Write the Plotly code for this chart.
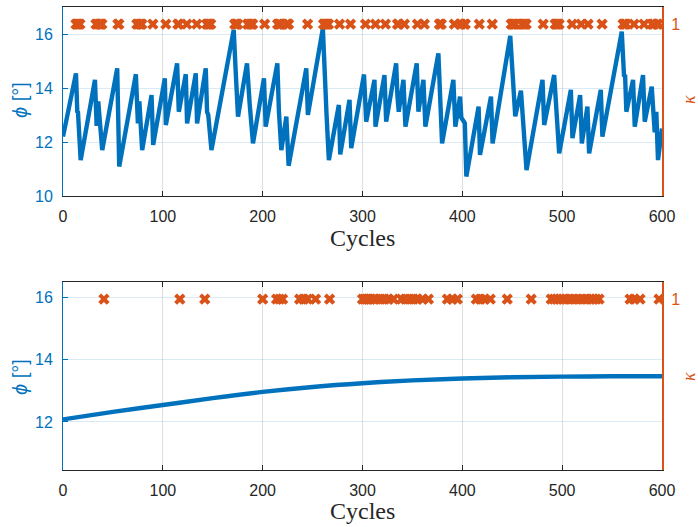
import plotly.graph_objects as go

# ---------------- data ----------------
# Top panel: phi [deg] vs cycles (vertices of the sawtooth line)
top_cycles = [0, 13, 14.3, 15, 17.7, 32, 33.7, 35.3, 39.3, 54.3, 56.3, 73, 75, 76.5, 79.3,
              88.7, 90.3, 102, 103, 114.3, 116, 123, 124.3, 133, 134.3, 143, 144.3, 145.5, 148.7,
              171, 173, 175.3, 184.3, 186, 187, 190.3, 201.3, 203, 214.7, 216.3, 218.7, 223.7, 226,
              243.7, 245.3, 260.3, 263, 264, 266.3, 276.3, 277.7, 287, 288.7, 301.5, 303.7,
              312, 313, 322, 323.7, 333.7, 335, 336.3, 341, 343, 354.3, 356, 361, 363,
              376, 377.7, 379.7, 391, 393, 397.7, 399, 402.5, 404, 416.3, 417.7, 428.7, 430.3,
              448, 451, 453, 458.7, 460.5, 461.5, 464.3, 480.3, 482, 492, 493.7, 494.5, 497,
              508.7, 510.3, 518, 519.7, 525.3, 527, 538.7, 540.3, 559.7, 562, 563, 564.3,
              571, 572.7, 581, 582.7, 589.7, 591, 592.7, 594.3, 596, 600]
top_phi = [12.2, 14.54, 13.12, 13.1, 11.33, 14.3, 12.6, 13.5, 11.7, 14.73, 11.09, 14.51, 12.69, 13.5, 11.7,
           13.74, 11.89, 14.36, 12.63, 14.91, 13.12, 14.51, 12.69, 14.54, 12.69, 14.73, 13.12, 13.0, 11.7,
           16.15, 14.6, 12.94, 14.91, 13.5, 13.4, 11.95, 14.36, 12.57, 14.91, 13.12, 11.7, 12.94, 11.12,
           14.73, 13.0, 16.21, 13.12, 13.0, 11.33, 13.37, 11.54, 13.56, 11.77, 14.5, 12.75,
           14.3, 12.57, 14.48, 12.75, 14.91, 13.7, 13.12, 14.3, 12.57, 14.91, 13.12, 14.3, 12.57,
           15.28, 13.6, 11.95, 14.3, 12.57, 13.68, 12.9, 12.7, 10.72, 13.31, 11.52, 13.68, 11.95,
           15.93, 14.2, 12.95, 13.9, 12.9, 12.8, 10.96, 14.3, 12.63, 14.48, 13.25, 13.2, 11.58,
           13.93, 12.14, 13.74, 11.95, 13.31, 11.58, 13.93, 12.2, 16.09, 14.42, 14.5, 13.12,
           14.3, 12.57, 14.48, 12.75, 14.05, 13.06, 12.36, 13.12, 11.33, 12.5]

# Top panel: cycles with kappa = 1
top_kappa_cycles = [13, 14, 15, 16, 17, 33, 34, 36, 37, 38, 39, 55, 56, 74, 75, 77, 78, 79, 90,
                    103, 115, 116, 124, 134, 144, 145, 146, 147, 148, 172, 173, 174, 175,
                    185, 186, 188, 189, 190, 202, 215, 216, 217, 218, 224, 225, 226, 245,
                    261, 262, 263, 264, 265, 266, 277, 288, 303, 313, 323, 335, 336, 342,
                    355, 362, 377, 378, 379, 392, 398, 399, 402, 403, 417, 430,
                    449, 450, 451, 452, 453, 460, 461, 462, 463, 464, 481, 493, 494, 495, 496, 497,
                    510, 519, 526, 540, 561, 562, 563, 564, 572, 582, 590, 591, 592, 595, 596]

# Bottom panel: smooth phi curve
bottom_cycles = [0, 50, 100, 150, 200, 250, 300, 350, 400, 450, 500, 550, 600]
bottom_phi = [12.08, 12.32, 12.54, 12.76, 12.96, 13.12, 13.24, 13.33, 13.39, 13.43, 13.45, 13.46, 13.46]

# Bottom panel: cycles with kappa = 1
bottom_kappa_cycles = [41, 117, 142, 200, 214, 217, 220, 237, 241, 245, 253, 267,
                       300, 302, 304, 306, 308, 311, 314, 318, 322, 326, 331, 339, 343, 347, 351,
                       355, 360, 366, 385, 390, 395, 414, 418, 422, 428, 445, 469,
                       489, 492, 495, 498, 501, 504, 508, 512, 516, 520, 524, 528, 531, 534, 537,
                       568, 572, 578, 597]
kappa_value = 1

x_ticks = [0, 100, 200, 300, 400, 500, 600]
top_phi_ticks = [10, 12, 14, 16]
bottom_phi_ticks = [12, 14, 16]

# ---------------- styling ----------------
BLUE = "#0072BD"
ORANGE = "#D95319"
DARK = "#262626"
SANS = "Liberation Sans, Arial, sans-serif"
SERIF = "Liberation Serif, Times New Roman, serif"

fig = go.Figure()

fig.add_trace(go.Scatter(x=top_cycles, y=top_phi, mode="lines",
                         line=dict(color=BLUE, width=4.4), xaxis="x", yaxis="y",
                         showlegend=False))
fig.add_trace(go.Scatter(x=top_kappa_cycles, y=[kappa_value] * len(top_kappa_cycles),
                         mode="markers", marker=dict(symbol="x", size=10, color=ORANGE),
                         xaxis="x", yaxis="y2", showlegend=False))
fig.add_trace(go.Scatter(x=bottom_cycles, y=bottom_phi, mode="lines",
                         line=dict(color=BLUE, width=4.4, shape="spline"),
                         xaxis="x2", yaxis="y3", showlegend=False))
fig.add_trace(go.Scatter(x=bottom_kappa_cycles, y=[kappa_value] * len(bottom_kappa_cycles),
                         mode="markers", marker=dict(symbol="x", size=10, color=ORANGE),
                         xaxis="x2", yaxis="y4", showlegend=False))

top_dom = [0.5918, 1.0]
bot_dom = [0.0, 0.406]

xcommon = dict(range=[0, 600], tickvals=x_ticks, showline=True, linecolor=DARK, linewidth=1,
               mirror="ticks", ticks="inside", ticklen=5, tickcolor=DARK,
               showgrid=True, gridcolor="rgba(0,0,0,0.13)", gridwidth=1, zeroline=False,
               tickfont=dict(family=SANS, size=16, color=DARK), ticklabelstandoff=6)
ycommon = dict(showline=True, linecolor=BLUE, linewidth=1, ticks="inside", ticklen=5,
               tickcolor=BLUE, showgrid=True, gridcolor="rgba(0,114,189,0.15)", zeroline=False,
               tickfont=dict(family=SANS, size=16, color=BLUE), ticklabelstandoff=6)
kcommon = dict(range=[0, 1.1], tickvals=[1], side="right", showline=True, linecolor=ORANGE,
               linewidth=2, ticks="inside", ticklen=5, tickcolor=ORANGE, showgrid=False,
               zeroline=False, tickfont=dict(family=SANS, size=16, color=ORANGE),
               ticklabelstandoff=4)

fig.update_layout(
    width=698, height=527,
    margin=dict(l=63, r=36, t=7, b=57),
    paper_bgcolor="white", plot_bgcolor="white",
    xaxis=dict(domain=[0, 1], anchor="y", **xcommon),
    yaxis=dict(domain=top_dom, anchor="x", range=[10, 17], tickvals=top_phi_ticks, **ycommon),
    yaxis2=dict(overlaying="y", anchor="x", **kcommon),
    xaxis2=dict(domain=[0, 1], anchor="y3", **xcommon),
    yaxis3=dict(domain=bot_dom, anchor="x2", range=[10.46, 16.48], tickvals=bottom_phi_ticks,
                **ycommon),
    yaxis4=dict(overlaying="y3", anchor="x2", **kcommon),
)


def py_to_paper(py):
    return (470 - py) / 463.0


ann = []
for cy in [238, 511]:
    ann.append(dict(text="Cycles", xref="paper", yref="paper", x=0.5, y=py_to_paper(cy),
                    xanchor="center", yanchor="middle", showarrow=False,
                    font=dict(family=SERIF, size=24, color=DARK)))
for cy in [100, 377]:
    ann.append(dict(text="<i>ϕ</i> [°]", xref="paper", yref="paper", x=(20 - 63) / 599.0,
                    y=py_to_paper(cy), xanchor="center", yanchor="middle", textangle=-90,
                    showarrow=False, font=dict(family=SANS, size=20, color=BLUE)))
    ann.append(dict(text="<i>κ</i>", xref="paper", yref="paper", x=(689 - 63) / 599.0,
                    y=py_to_paper(cy), xanchor="center", yanchor="middle", textangle=-90,
                    showarrow=False, font=dict(family=SERIF, size=18, color=ORANGE)))
fig.update_layout(annotations=ann)

fig.write_html("out.html", config={"displayModeBar": False},
               post_script="document.body.style.margin='0';document.body.style.overflow='hidden';")
